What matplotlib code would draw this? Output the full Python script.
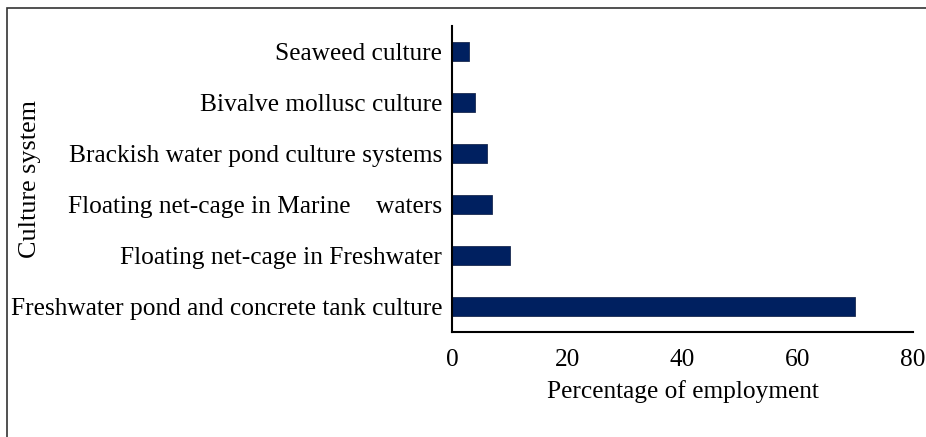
import matplotlib.pyplot as plt
from matplotlib.patches import Rectangle

plt.rcParams['font.family'] = ['Liberation Serif', 'DejaVu Serif']

systems = ['Seaweed culture',
           'Bivalve mollusc culture',
           'Brackish water pond culture systems',
           'Floating net-cage in Marine    waters',
           'Floating net-cage in Freshwater',
           'Freshwater pond and concrete tank culture']
employment = [3, 4, 6, 7, 10, 70]
xticks = [0, 20, 40, 60, 80]

fs = 18.3

fig = plt.figure(figsize=(9.26, 4.37), dpi=100)
ax = fig.add_axes([452/926, 1 - 332/437, (913 - 452)/926, (332 - 26)/437])

pos = list(range(len(systems)))
ax.barh(pos, employment, height=0.37, color='#002060', edgecolor='#1a2a50', linewidth=0.6)
ax.set_ylim(len(systems) - 0.5, -0.5)
ax.set_xlim(0, 80)
ax.set_xticks(xticks)
ax.set_yticks(pos)
ax.set_yticklabels(systems)
ax.tick_params(length=0, labelsize=fs, colors='black')
ax.tick_params(axis='x', pad=12)
ax.tick_params(axis='y', pad=7)

for s in ['top', 'right']:
    ax.spines[s].set_visible(False)
for s in ['left', 'bottom']:
    ax.spines[s].set_linewidth(1.5)

ax.set_xlabel('Percentage of employment', fontsize=fs, labelpad=7)
fig.text(30/926, 1 - 179/437, 'Culture system', rotation=90, fontsize=fs + 0.5,
         ha='center', va='center')

# outer frame (top and left edges only)
fig.patches.append(Rectangle((7/926, -0.1), 1.2, 1 - 8/437 + 0.1, transform=fig.transFigure,
                             fill=False, edgecolor='#333333', linewidth=1.2))

fig.savefig('out.png', dpi=100)
